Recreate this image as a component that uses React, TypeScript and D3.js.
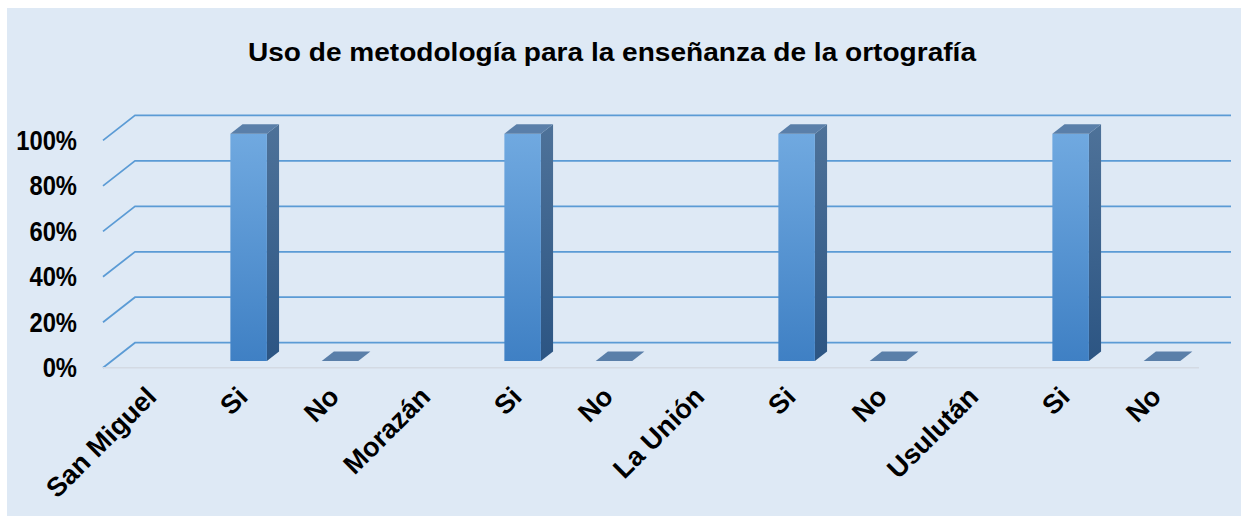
import * as d3 from 'd3';
import { useEffect, useRef } from 'react';

const categories = ['San Miguel', 'Si', 'No', 'Morazán', 'Si', 'No', 'La Unión', 'Si', 'No', 'Usulután', 'Si', 'No'];
const values = [null, 1, 0, null, 1, 0, null, 1, 0, null, 1, 0];
const yTicks = [0, 0.2, 0.4, 0.6, 0.8, 1];
const title = 'Uso de metodología  para la enseñanza de la ortografía';

export default function App() {
    const ref = useRef<SVGSVGElement>(null);

    useEffect(() => {
        const width = 1241;
        const height = 516;
        const plot = { left: 103, right: 1199, floor: 367.7, top: 140.4 };
        const depth = { dx: 32, dy: -25 };
        const barZ = [0.27, 0.65];
        const gridColor = '#5B9BD5';
        const font = '"Liberation Sans", Arial, sans-serif';

        const svg = d3.select(ref.current);
        svg.selectAll('*').remove();

        const defs = svg.append('defs');
        const front = defs.append('linearGradient').attr('id', 'front').attr('x1', 0).attr('y1', 0).attr('x2', 0).attr('y2', 1);
        front.append('stop').attr('offset', '0%').attr('stop-color', '#70A9E0');
        front.append('stop').attr('offset', '100%').attr('stop-color', '#3F80C4');
        const side = defs.append('linearGradient').attr('id', 'side').attr('x1', 0).attr('y1', 0).attr('x2', 0).attr('y2', 1);
        side.append('stop').attr('offset', '0%').attr('stop-color', '#4E7299');
        side.append('stop').attr('offset', '100%').attr('stop-color', '#2C5583');

        svg.append('rect').attr('width', width).attr('height', height).attr('fill', '#ffffff');
        svg.append('rect').attr('x', 7).attr('y', 8).attr('width', width - 7).attr('height', height - 8).attr('fill', '#DEE9F5');

        svg.append('text')
            .attr('x', 248)
            .attr('y', 60.5)
            .attr('textLength', 728)
            .attr('lengthAdjust', 'spacingAndGlyphs')
            .attr('font-family', font)
            .attr('font-weight', 'bold')
            .attr('font-size', 25)
            .attr('fill', '#000')
            .text(title);

        const x = d3.scaleBand<number>()
            .domain(d3.range(categories.length))
            .range([plot.left, plot.right])
            .paddingInner(0.6)
            .paddingOuter(0.3);

        const y = d3.scaleLinear().domain([0, 1]).range([plot.floor, plot.top]);

        const step = x.step();
        const center = (i: number) => plot.left + step * (i + 0.5);

        // back wall gridlines with the diagonal on the side wall
        svg.append('g')
            .selectAll('path')
            .data(yTicks)
            .join('path')
            .attr('fill', 'none')
            .attr('stroke', gridColor)
            .attr('stroke-width', 1.75)
            .attr('d', t => {
                const yy = y(t);
                return `M${plot.left},${yy}L${plot.left + depth.dx},${yy + depth.dy}L${plot.right + depth.dx},${yy + depth.dy}`;
            });

        // floor front edge
        svg.append('line')
            .attr('x1', plot.left).attr('x2', plot.right)
            .attr('y1', plot.floor).attr('y2', plot.floor)
            .attr('stroke', '#D3DAE3')
            .attr('stroke-width', 1.5);

        svg.append('g')
            .selectAll('text')
            .data(yTicks)
            .join('text')
            .attr('transform', t => `translate(77,${y(t)}) scale(0.88,1)`)
            .attr('text-anchor', 'end')
            .attr('dominant-baseline', 'central')
            .attr('font-family', font)
            .attr('font-weight', 'bold')
            .attr('font-size', 27)
            .attr('fill', '#000')
            .text(d3.format('.0%'));

        const bars = categories.map((c, i) => ({ c, i, v: values[i] })).filter(d => d.v !== null);

        const p = (xx: number, v: number, z: number) => [xx + z * depth.dx, y(v) + z * depth.dy];
        const poly = (pts: number[][]) => 'M' + pts.map(q => q.join(',')).join('L') + 'Z';

        const g = svg.append('g').selectAll('g').data(bars).join('g');

        g.filter(d => (d.v as number) > 0)
            .append('path')
            .attr('fill', 'url(#side)')
            .attr('d', d => {
                const x1 = (x(d.i) as number) + x.bandwidth();
                const v = d.v as number;
                return poly([p(x1, 0, barZ[0]), p(x1, v, barZ[0]), p(x1, v, barZ[1]), p(x1, 0, barZ[1])]);
            });

        g.filter(d => (d.v as number) > 0)
            .append('path')
            .attr('fill', 'url(#front)')
            .attr('d', d => {
                const x0 = x(d.i) as number;
                const x1 = x0 + x.bandwidth();
                const v = d.v as number;
                return poly([p(x0, 0, barZ[0]), p(x0, v, barZ[0]), p(x1, v, barZ[0]), p(x1, 0, barZ[0])]);
            });

        g.append('path')
            .attr('fill', '#5A7FA9')
            .attr('d', d => {
                const x0 = x(d.i) as number;
                const x1 = x0 + x.bandwidth();
                const v = d.v as number;
                return poly([p(x0, v, barZ[0]), p(x1, v, barZ[0]), p(x1, v, barZ[1]), p(x0, v, barZ[1])]);
            });

        svg.append('g')
            .selectAll('text')
            .data(categories)
            .join('text')
            .attr('transform', (c, i) => `translate(${center(i) + 3},${392}) rotate(-45)`)
            .attr('text-anchor', 'end')
            .attr('dominant-baseline', 'central')
            .attr('font-family', font)
            .attr('font-weight', 'bold')
            .attr('font-size', 27)
            .attr('fill', '#000')
            .text(c => c);
    }, []);

    return (
        <svg ref={ref} width={1241} height={516}
            style={{ position: 'absolute', left: 0, top: 0, display: 'block' }} />
    );
}
